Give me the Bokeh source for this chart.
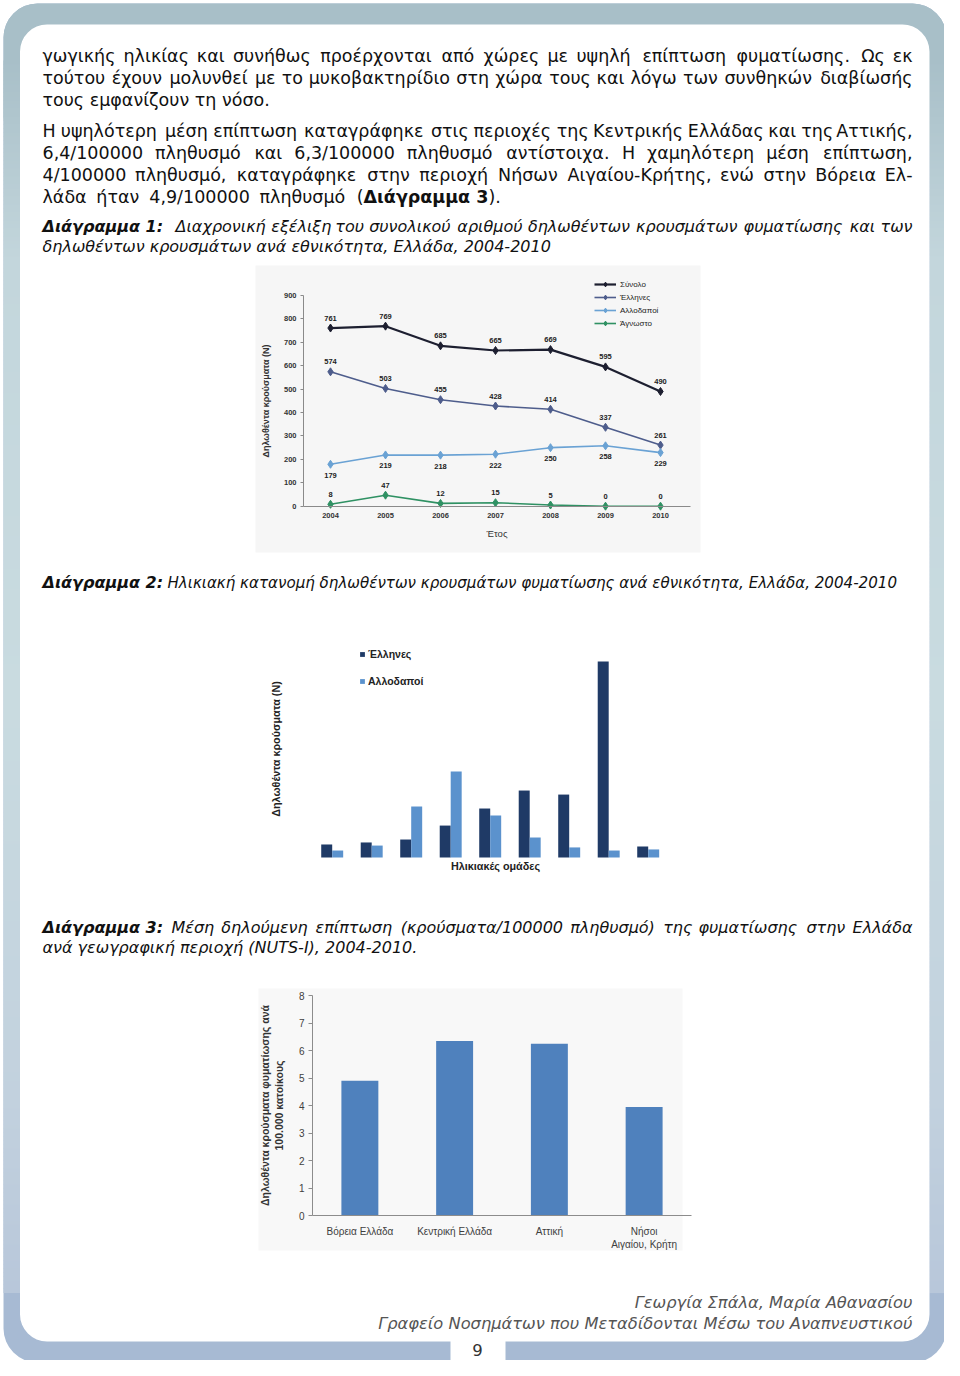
import numpy as np
from bokeh.plotting import figure
from bokeh.models import Range1d, Legend, LegendItem, FixedTicker, ColumnDataSource, LinearAxis
from bokeh.core.properties import value
from bokeh.embed import file_html
from bokeh.resources import INLINE

# ---------------- data ----------------
years = [2004, 2005, 2006, 2007, 2008, 2009, 2010]
synolo = [761, 769, 685, 665, 669, 595, 490]
ellines = [574, 503, 455, 428, 414, 337, 261]
allodapoi = [179, 219, 218, 222, 250, 258, 229]
agnosto = [8, 47, 12, 15, 5, 0, 0]
y1_ticks = [0, 100, 200, 300, 400, 500, 600, 700, 800, 900]

age_group_index = [1, 2, 3, 4, 5, 6, 7, 8, 9]          # age groups (labels not shown in the source)
age_ellines = [84, 97, 116, 206, 316, 432, 406, 1264, 71]
age_allodapoi = [45, 77, 329, 555, 271, 129, 65, 45, 52]

regions = ["Βόρεια Ελλάδα", "Κεντρική Ελλάδα", "Αττική", "Νήσοι\nΑιγαίου, Κρήτη"]
incidence = [4.9, 6.35, 6.25, 3.95]
y3_ticks = [0, 1, 2, 3, 4, 5, 6, 7, 8]

W, H = 944, 1360
BODY = "DejaVu Sans"
CH = "Liberation Sans"
INK = "#111111"
GREY = "#555555"
BS = 17.5

# justified lines: y, x0, x1, text, style, size
JUSTIFIED = [
    (55, 42, 912, "γωγικής ηλικίας και συνήθως προέρχονται από χώρες με υψηλή επίπτωση φυματίωσης. Ως εκ", "normal", BS),
    (77, 42, 912, "τούτου έχουν μολυνθεί με το μυκοβακτηρίδιο στη χώρα τους και λόγω των συνθηκών διαβίωσής", "normal", BS),
    (130, 42, 912, "Η υψηλότερη μέση επίπτωση καταγράφηκε στις περιοχές της Κεντρικής Ελλάδας και της Αττικής,", "normal", BS),
    (152, 42, 912, "6,4/100000 πληθυσμό και 6,3/100000 πληθυσμό αντίστοιχα. Η χαμηλότερη μέση επίπτωση,", "normal", BS),
    (174, 42, 912, "4/100000 πληθυσμό, καταγράφηκε στην περιοχή Νήσων Αιγαίου-Κρήτης, ενώ στην Βόρεια Ελ-", "normal", BS),
    (196, 42, 363, "λάδα ήταν 4,9/100000 πληθυσμό (", "normal", BS),
    (226, 175, 912, "Διαχρονική εξέλιξη του συνολικού αριθμού δηλωθέντων κρουσμάτων φυματίωσης και των", "italic", 16),
    (927, 171, 912, "Μέση δηλούμενη επίπτωση (κρούσματα/100000 πληθυσμό) της φυματίωσης στην Ελλάδα", "italic", 16),
]

# single text items: x, y, text, style, align, color, size
TEXTS = [
    (42, 99, "τους εμφανίζουν τη νόσο.", "normal", "left", INK, "17.5px"),
    (363, 196, "Διάγραμμα 3", "bold", "left", INK, "17.5px"),
    (488, 196, ").", "normal", "left", INK, "17.5px"),
    (42, 226, "Διάγραμμα 1:", "bold italic", "left", INK, "16px"),
    (42, 246, "δηλωθέντων κρουσμάτων ανά εθνικότητα, Ελλάδα, 2004-2010", "italic", "left", INK, "16px"),
    (42, 582, "Διάγραμμα 2:", "bold italic", "left", INK, "16px"),
    (167, 582, "Ηλικιακή κατανομή δηλωθέντων κρουσμάτων φυματίωσης ανά εθνικότητα, Ελλάδα, 2004-2010",
     "italic", "left", INK, "15.1px"),
    (42, 927, "Διάγραμμα 3:", "bold italic", "left", INK, "16px"),
    (42, 947, "ανά γεωγραφική περιοχή (NUTS-I), 2004-2010.", "italic", "left", INK, "16px"),
    (912, 1302, "Γεωργία Σπάλα, Μαρία Αθανασίου", "italic", "right", GREY, "16.3px"),
    (912, 1323, "Γραφείο Νοσημάτων που Μεταδίδονται Μέσω του Αναπνευστικού", "italic", "right", GREY, "16.3px"),
]

# approximate advance widths (em) of the body font, used only to spread justified words
GW = {' ': .318, '.': .318, ',': .318, '/': .337, '-': .361, '(': .390, ')': .390, ':': .337}
GW.update({d: .636 for d in "0123456789"})
GW.update({'α': .659, 'ά': .659, 'β': .638, 'γ': .592, 'δ': .612, 'ε': .541, 'έ': .541, 'ζ': .524,
           'η': .634, 'ή': .634, 'θ': .612, 'ι': .338, 'ί': .338, 'ϊ': .338, 'κ': .589, 'λ': .592,
           'μ': .636, 'ν': .592, 'ξ': .524, 'ο': .612, 'ό': .612, 'π': .652, 'ρ': .635, 'σ': .650,
           'ς': .557, 'τ': .583, 'υ': .608, 'ύ': .608, 'φ': .815, 'χ': .592, 'ψ': .815, 'ω': .846,
           'ώ': .846, 'Α': .684, 'Β': .686, 'Γ': .557, 'Δ': .684, 'Ε': .632, 'Ζ': .685, 'Η': .752,
           'Θ': .787, 'Ι': .295, 'Κ': .656, 'Λ': .684, 'Μ': .863, 'Ν': .748, 'Ξ': .632, 'Ο': .787,
           'Π': .752, 'Ρ': .603, 'Σ': .632, 'Τ': .611, 'Υ': .611, 'Φ': .787, 'Χ': .685, 'Ψ': .787,
           'Ω': .764, 'N': .748, 'U': .732, 'T': .611, 'S': .635, 'I': .295})


def text_width(s, size):
    return sum(GW.get(ch, 0.6) for ch in s) * size


SIDE_STOPS = [(60, "#a8bfc8"), (260, "#c3d6dc"), (700, "#c9dbe0"), (1100, "#c2d1de"), (1290, "#b8c7da")]


def _rgb(h):
    return np.array([int(h[i:i + 2], 16) for i in (1, 3, 5)], dtype=float)


def _grad(y):
    for (y0, c0), (y1, c1) in zip(SIDE_STOPS[:-1], SIDE_STOPS[1:]):
        if y0 <= y <= y1:
            t = (y - y0) / (y1 - y0)
            c = _rgb(c0) * (1 - t) + _rgb(c1) * t
            return "#%02x%02x%02x" % tuple(int(round(v)) for v in c)
    return SIDE_STOPS[-1][1]


def x_map(a, pa, b, pb):
    """numeric range where value a sits at page pixel pa and b at pb (horizontal)"""
    k = (pb - pa) / float(b - a)
    start = a - pa / k
    return Range1d(start, start + W / k)


def y_map(a, pa, b, pb):
    """numeric range where value a sits at page pixel pa and b at pb (vertical, pixels downward)"""
    k = (pa - pb) / float(b - a)
    end = a + pa / k
    return Range1d(end - H / k, end)


p = figure(width=W, height=H, x_range=Range1d(0, W), y_range=Range1d(H, 0),
           x_axis_location=None, y_axis_location=None, min_border=0,
           toolbar_location=None, output_backend="svg")
p.grid.visible = False
p.outline_line_color = None
p.background_fill_color = "white"
p.border_fill_color = "white"

# ---------------- page frame ----------------
p.quad(left=[3], right=[946], top=[3], bottom=[1362], fill_color="#a7bad3", line_color=None, border_radius=34)
p.quad(left=[3], right=[946], top=[3], bottom=[150], fill_color="#a8bfc8", line_color=None, border_radius=34)
ys = np.arange(60, 1290, 4)
cols = [_grad(y + 2) for y in ys]
for l, r in ((3, 19.5), (929, 946)):
    src = ColumnDataSource(dict(top=ys, bottom=ys + 4.6, fc=cols))
    p.quad(left=l, right=r, top="top", bottom="bottom", fill_color="fc", line_color=None, source=src)
p.quad(left=[19.5], right=[929], top=[24], bottom=[1341], fill_color="white", line_color=None, border_radius=27)
p.quad(left=[450], right=[505], top=[1335], bottom=[1366], fill_color="white", line_color=None)
p.text(x=[477], y=[1349], text=["9"], text_font=value("DejaVu Sans"), text_font_size="16.5px",
       text_align="center", text_baseline="middle", text_color="#333333")

# chart image backgrounds
p.quad(left=[255], right=[700], top=[265], bottom=[552], fill_color="#f6f6f6", line_color=None)
p.quad(left=[258], right=[682], top=[988], bottom=[1250], fill_color="#f8f8f8", line_color=None)

# ---------------- texts ----------------
for (y, x0, x1, s, style, size) in JUSTIFIED:
    words = s.split(" ")
    widths = [text_width(w, size) for w in words]
    gap = (x1 - x0 - sum(widths)) / float(len(words) - 1)
    xs, x = [], x0
    for wd in widths:
        xs.append(x)
        x += wd + gap
    aligns = ["left"] * (len(words) - 1) + ["right"]
    xs[-1] = x1
    src = ColumnDataSource(dict(x=xs, y=[y] * len(words), t=words, a=aligns))
    p.text(x="x", y="y", text="t", text_align="a", source=src, text_font=value(BODY),
           text_font_size="%gpx" % size, text_font_style=style, text_baseline="middle", text_color=INK)

for (x, y, s, style, align, color, size) in TEXTS:
    p.text(x=[x], y=[y], text=[s], text_font=value(BODY), text_font_size=size,
           text_font_style=style, text_align=align, text_baseline="middle", text_color=color)


def style_axis(ax, size, weight="bold", color="#333333"):
    ax.major_label_text_font = CH
    ax.major_label_text_font_size = size
    ax.major_label_text_font_style = weight
    ax.major_label_text_color = color
    ax.minor_tick_line_color = None


# ---------------- chart 1 ----------------
p.extra_x_ranges["c1x"] = x_map(2004, 330, 2010, 660)
p.extra_y_ranges["c1y"] = y_map(0, 505.7, 900, 295)
series = [
    ("Σύνολο", synolo, "#1d1f30", 2.2, -10),
    ("Έλληνες", ellines, "#4e5d8c", 1.6, -10),
    ("Αλλοδαποί", allodapoi, "#6aa2d4", 1.6, 11),
    ("Άγνωστο", agnosto, "#2f9163", 1.6, -10),
]
items = []
for name, vals, col, lw, off in series:
    lr = p.line(years, vals, line_color=col, line_width=lw, x_range_name="c1x", y_range_name="c1y")
    sr = p.scatter(years, vals, marker="diamond", size=8, fill_color=col, line_color=col,
                   x_range_name="c1x", y_range_name="c1y")
    p.text(x=years, y=vals, text=[str(v) for v in vals], y_offset=off, text_align="center",
           text_baseline="middle", text_font=value(CH), text_font_size="7.5px", text_font_style="bold",
           text_color="#222222", x_range_name="c1x", y_range_name="c1y")
    items.append(LegendItem(label=name, renderers=[lr, sr]))
leg1 = Legend(items=items, location=(594, H - 329), glyph_width=22, glyph_height=12, label_height=12,
              spacing=1, padding=0, margin=0, label_standoff=4, label_text_font=CH,
              label_text_font_size="8px", label_text_color="#222222",
              background_fill_alpha=0, border_line_color=None)
p.add_layout(leg1)

y1ax = LinearAxis(y_range_name="c1y", fixed_location=303, bounds=(0, 900), ticker=FixedTicker(ticks=y1_ticks))
style_axis(y1ax, "7.5px")
y1ax.axis_line_color = "#8a8a8a"
y1ax.major_tick_line_color = "#8a8a8a"
y1ax.major_tick_out = 3
y1ax.major_tick_in = 0
y1ax.major_label_standoff = 4
y1ax.axis_label = "Δηλωθέντα κρούσματα (Ν)"
y1ax.axis_label_text_font = CH
y1ax.axis_label_text_font_size = "9px"
y1ax.axis_label_text_font_style = "bold"
y1ax.axis_label_text_color = "#333333"
y1ax.axis_label_standoff = 10
p.add_layout(y1ax, "left")

x1ax = LinearAxis(x_range_name="c1x", y_range_name="c1y", fixed_location=0,
                  bounds=(2004 - 27 / 55.0, 2010 + 30 / 55.0), ticker=FixedTicker(ticks=years))
style_axis(x1ax, "7.5px")
x1ax.axis_line_color = "#8a8a8a"
x1ax.major_tick_line_color = None
x1ax.major_tick_out = 0
x1ax.major_tick_in = 0
x1ax.major_label_standoff = 7
x1ax.axis_label = "Έτος"
x1ax.axis_label_text_font = CH
x1ax.axis_label_text_font_size = "9.5px"
x1ax.axis_label_text_font_style = "normal"
x1ax.axis_label_text_color = "#333333"
x1ax.axis_label_standoff = 6
p.add_layout(x1ax, "below")

# ---------------- chart 2 ----------------
p.extra_x_ranges["c2x"] = x_map(1, 331.7, 9, 647.7)
p.extra_y_ranges["c2y"] = y_map(0, 857, 1400, 640)
bw = 0.278
r_el = p.vbar(x=[i - bw / 2 for i in age_group_index], top=age_ellines, width=bw,
              fill_color="#1f3a66", line_color=None, x_range_name="c2x", y_range_name="c2y")
r_al = p.vbar(x=[i + bw / 2 for i in age_group_index], top=age_allodapoi, width=bw,
              fill_color="#5b92cd", line_color=None, x_range_name="c2x", y_range_name="c2y")
for nm, rr, cy in (("Έλληνες", r_el, 653), ("Αλλοδαποί", r_al, 680)):
    lg = Legend(items=[LegendItem(label=nm, renderers=[rr])], location=(359, H - (cy + 7)),
                glyph_width=6, glyph_height=6, label_height=6, padding=0, margin=0, label_standoff=3,
                label_text_font=CH, label_text_font_size="10.5px", label_text_font_style="bold",
                label_text_color="#222222", background_fill_alpha=0, border_line_color=None)
    p.add_layout(lg)

x2ax = LinearAxis(x_range_name="c2x", y_range_name="c2y", fixed_location=0,
                  bounds=(1 - 31.7 / 39.5, 1 + 358.3 / 39.5), ticker=FixedTicker(ticks=[]))
y2ax = LinearAxis(y_range_name="c2y", fixed_location=300, bounds=(0, 1400), ticker=FixedTicker(ticks=[]))
for ax, lab, st in ((x2ax, "Ηλικιακές ομάδες", 2), (y2ax, "Δηλωθέντα κρούσματα (Ν)", 19)):
    ax.axis_line_color = None
    ax.major_tick_line_color = None
    ax.minor_tick_line_color = None
    ax.major_tick_out = 0
    ax.major_label_standoff = 0
    ax.axis_label = lab
    ax.axis_label_text_font = CH
    ax.axis_label_text_font_size = "10.8px"
    ax.axis_label_text_font_style = "bold"
    ax.axis_label_text_color = "#222222"
    ax.axis_label_standoff = st
p.add_layout(x2ax, "below")
p.add_layout(y2ax, "left")

# ---------------- chart 3 ----------------
region_pos = [i + 0.5 for i in range(len(regions))]
p.extra_x_ranges["c3x"] = x_map(0, 312, 4, 691)
p.extra_y_ranges["c3y"] = y_map(0, 1215, 8, 995)
p.vbar(x=region_pos, top=incidence, width=0.39, fill_color="#4f81bd", line_color=None,
       x_range_name="c3x", y_range_name="c3y")
y3ax = LinearAxis(y_range_name="c3y", fixed_location=312, bounds=(0, 8), ticker=FixedTicker(ticks=y3_ticks))
style_axis(y3ax, "10px", weight="normal", color="#404040")
y3ax.axis_line_color = "#8c8c8c"
y3ax.major_tick_line_color = "#8c8c8c"
y3ax.major_tick_out = 4
y3ax.major_tick_in = 0
y3ax.major_label_standoff = 4
y3ax.axis_label = "Δηλωθέντα κρούσματα φυματίωσης ανά\n100.000 κατοίκους"
y3ax.axis_label_text_font = CH
y3ax.axis_label_text_font_size = "10.5px"
y3ax.axis_label_text_font_style = "bold"
y3ax.axis_label_text_color = "#333333"
y3ax.axis_label_standoff = 11
p.add_layout(y3ax, "left")

x3ax = LinearAxis(x_range_name="c3x", y_range_name="c3y", fixed_location=0, bounds=(0, 4),
                  ticker=FixedTicker(ticks=region_pos),
                  major_label_overrides={pos: name for pos, name in zip(region_pos, regions)})
style_axis(x3ax, "10px", weight="normal", color="#404040")
x3ax.axis_line_color = "#8c8c8c"
x3ax.major_tick_line_color = None
x3ax.major_tick_out = 0
x3ax.major_tick_in = 0
x3ax.major_label_standoff = 10
p.add_layout(x3ax, "below")

open("out.html", "w").write(file_html(p, INLINE))
